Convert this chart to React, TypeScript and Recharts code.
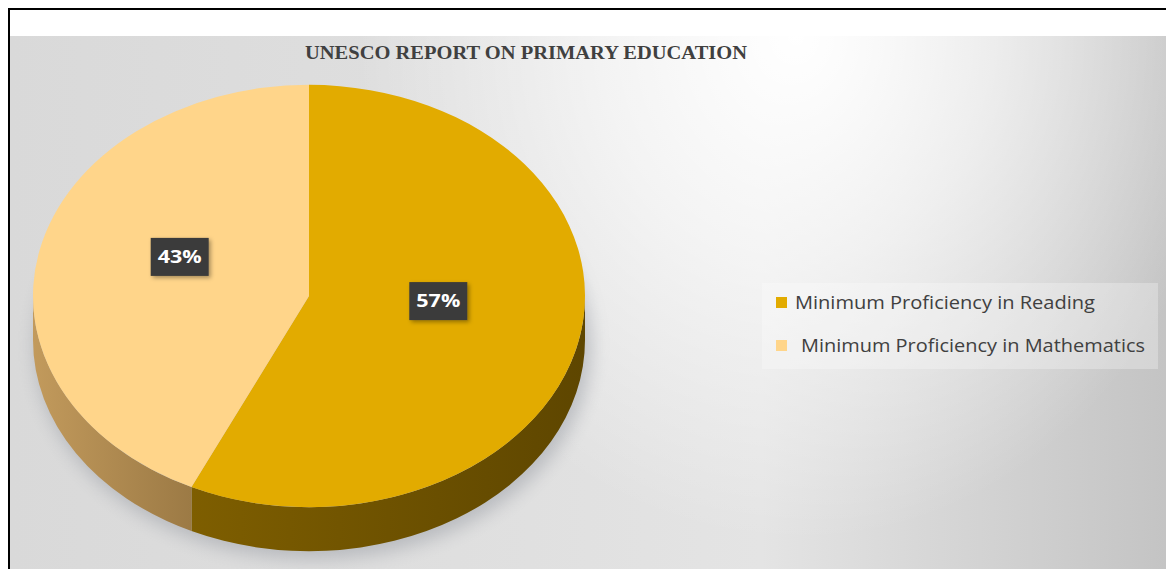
import React from "react";
import { PieChart, Pie, Legend } from "recharts";

// ---- data ----
const categories = ["Minimum Proficiency in Reading", "Minimum Proficiency in Mathematics"];
const values = [57, 43];
const chartTitle = "UNESCO REPORT ON PRIMARY EDUCATION";

// ---- styles ----
const topColors = ["#E2AB00", "#FFD58A"];
const sideLight = ["#7E5E00", "#C29A5C"];
const sideDark = ["#5E4600", "#9C7A45"];
const TILT = 0.765;
const DEPTH = 44;
const legendTextWidths = [300, 344];

const data = categories.map((name, i) => ({ name, value: values[i], fill: topColors[i] }));

const rad = (a: number) => (a * Math.PI) / 180;

function SliceShape(props: any) {
  const { cx, cy, outerRadius, startAngle, endAngle } = props;
  const name = props.name ?? props.payload?.name;
  const idx = Math.max(0, categories.indexOf(name));
  const rx = outerRadius;
  const ry = outerRadius * TILT;
  const P = (a: number, dy = 0) => [cx + rx * Math.cos(rad(a)), cy - ry * Math.sin(rad(a)) + dy];
  const [x1, y1] = P(startAngle);
  const [x2, y2] = P(endAngle);
  const span = Math.abs(startAngle - endAngle);
  const large = span > 180 ? 1 : 0;
  const sweep = startAngle > endAngle ? 1 : 0;
  const topPath = `M ${cx} ${cy} L ${x1} ${y1} A ${rx} ${ry} 0 ${large} ${sweep} ${x2} ${y2} Z`;

  const hi0 = Math.max(startAngle, endAngle);
  const lo0 = Math.min(startAngle, endAngle);
  const sides: string[] = [];
  for (const k of [-360, 0, 360]) {
    const hi = Math.min(hi0 + k, 0);
    const lo = Math.max(lo0 + k, -180);
    if (hi > lo) {
      const [ax, ay] = P(hi);
      const [bx, by] = P(lo);
      const [cx2, cy2] = P(lo, DEPTH);
      const [dx, dy2] = P(hi, DEPTH);
      sides.push(
        `M ${ax} ${ay} A ${rx} ${ry} 0 0 1 ${bx} ${by} L ${cx2} ${cy2} A ${rx} ${ry} 0 0 0 ${dx} ${dy2} Z`
      );
    }
  }
  const gid = `side-grad-${idx}`;
  return (
    <g>
      <defs>
        <linearGradient id={gid} x1="0" y1="0" x2="1" y2="0">
          <stop offset="0%" stopColor={sideLight[idx]} />
          <stop offset="100%" stopColor={sideDark[idx]} />
        </linearGradient>
        <filter id={`pie-shadow-${idx}`} x="-20%" y="-20%" width="140%" height="140%">
          <feGaussianBlur stdDeviation="9" />
        </filter>
      </defs>
      {idx === 0 && (
        <ellipse
          cx={cx + 4}
          cy={cy + DEPTH + 6}
          rx={rx + 2}
          ry={ry + 2}
          fill="#8a8f98"
          opacity={0.45}
          filter={`url(#pie-shadow-${idx})`}
        />
      )}
      {sides.map((d, i) => (
        <path key={i} d={d} fill={`url(#${gid})`} stroke="none" />
      ))}
      <path d={topPath} fill={topColors[idx]} stroke="none" />
    </g>
  );
}

function renderLabel(props: any) {
  const { cx, cy, midAngle, outerRadius, percent } = props;
  const rx = outerRadius;
  const ry = outerRadius * TILT;
  const x = cx + 0.48 * rx * Math.cos(rad(midAngle));
  const y = cy - 0.48 * ry * Math.sin(rad(midAngle)) - 17;
  const w = 58;
  const h = 38;
  return (
    <g>
      <defs>
        <filter id="lbl-shadow" x="-30%" y="-30%" width="160%" height="160%">
          <feDropShadow dx="2" dy="2" stdDeviation="2" floodColor="#000" floodOpacity="0.35" />
        </filter>
      </defs>
      <rect x={x - w / 2} y={y - h / 2} width={w} height={h} fill="#3A3A3A" filter="url(#lbl-shadow)" />
      <text
        x={x}
        y={y + 6}
        textAnchor="middle"
        fill="#FFFFFF"
        fontFamily="'Open Sans', sans-serif"
        fontWeight={700}
        fontSize={18}
        textLength={44}
        lengthAdjust="spacingAndGlyphs"
      >
        {`${Math.round(percent * 100)}%`}
      </text>
    </g>
  );
}

function renderLegend(props: any) {
  const payload = [...(props.payload ?? [])].sort(
    (a: any, b: any) => categories.indexOf(a.value) - categories.indexOf(b.value)
  );
  return (
    <svg width={396} height={86} style={{ display: "block" }}>
      <rect x={0} y={0} width={396} height={86} fill="rgba(255,255,255,0.28)" />
      {payload.map((entry: any, i: number) => {
        const cyRow = 20 + i * 43;
        const color = entry.color ?? entry.payload?.fill ?? topColors[i];
        return (
          <g key={i}>
            <rect x={14} y={cyRow - 6} width={11} height={11} fill={color} />
            <text
              x={i === 0 ? 33 : 39}
              y={cyRow + 6}
              fill="#404040"
              fontFamily="'Open Sans', sans-serif"
              fontSize={17.5}
              textLength={legendTextWidths[i]}
              lengthAdjust="spacingAndGlyphs"
            >
              {entry.value}
            </text>
          </g>
        );
      })}
    </svg>
  );
}

export default function App() {
  return (
    <div style={{ position: "absolute", left: 0, top: 0, width: 1166, height: 569, background: "#fff", overflow: "hidden" }}>
      <div
        style={{
          position: "absolute",
          left: 10,
          top: 36,
          width: 1156,
          height: 533,
          background:
            "radial-gradient(ellipse 38% 95% at 68% 0%, rgba(255,255,255,1) 0%, rgba(255,255,255,0.6) 45%, rgba(255,255,255,0) 100%), linear-gradient(to right, #D9D9D9 0%, #E0E0E0 45%, #E4E4E4 65%, #D2D2D2 85%, #C4C4C4 100%)",
        }}
      />
      <div style={{ position: "absolute", left: 8, top: 8, width: 1158, height: 2, background: "#000" }} />
      <div style={{ position: "absolute", left: 8, top: 8, width: 2, height: 561, background: "#000" }} />
      <div style={{ position: "absolute", left: 0, top: 0 }}>
        <PieChart width={1166} height={569} margin={{ top: 0, right: 0, bottom: 0, left: 0 }}>
          <text
            x={526}
            y={59}
            textAnchor="middle"
            fill="#404040"
            fontFamily="'Liberation Serif', 'Times New Roman', serif"
            fontWeight={700}
            fontSize={18.5}
            textLength={442}
            lengthAdjust="spacingAndGlyphs"
          >
            {chartTitle}
          </text>
          <Pie
            data={data}
            dataKey="value"
            nameKey="name"
            cx={309}
            cy={296}
            outerRadius={276}
            startAngle={90}
            endAngle={-270}
            stroke="none"
            isAnimationActive={false}
            labelLine={false}
            label={renderLabel}
            shape={SliceShape}
          />
          <Legend
            content={renderLegend}
            wrapperStyle={{ position: "absolute", left: 762, top: 283, width: 396, height: 86 }}
          />
        </PieChart>
      </div>
    </div>
  );
}
